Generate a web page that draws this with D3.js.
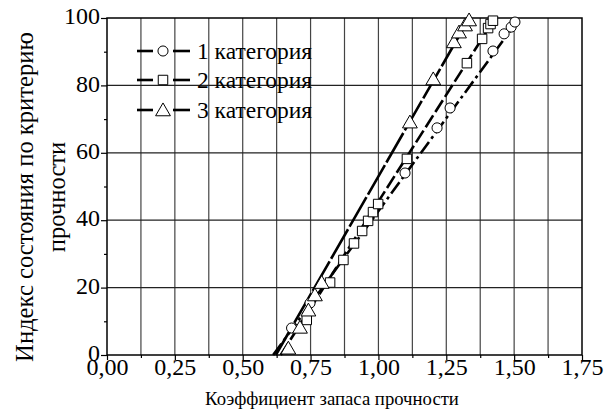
<!DOCTYPE html>
<html><head><meta charset="utf-8">
<script src="https://cdn.jsdelivr.net/npm/d3@7"></script>
</head><body style="margin:0">
<svg id="c" width="616" height="412" style="font-family:'Liberation Serif'"></svg>
<script>
// ---- data ----
const seriesNames = ["1 категория", "2 категория", "3 категория"];
const xTicks = [0, 0.25, 0.5, 0.75, 1.0, 1.25, 1.5, 1.75];
const yTicks = [0, 20, 40, 60, 80, 100];
const cat1 = [[0.680,8.0],[0.748,15.4],[1.098,54.0],[1.216,67.4],[1.264,73.3],[1.422,90.2],[1.463,95.3],[1.489,97.3],[1.503,98.8]];
const cat2 = [[0.736,10.4],[0.822,21.5],[0.871,28.2],[0.910,33.1],[0.940,36.8],[0.962,39.8],[0.980,42.4],[0.999,44.8],[1.105,58.2],[1.326,86.6],[1.382,93.8],[1.404,97.0],[1.413,98.2],[1.422,99.2]];
const cat3 = [[0.668,2.0],[0.711,8.2],[0.742,13.3],[0.766,17.8],[0.791,21.5],[1.116,69.1],[1.202,81.9],[1.278,92.9],[1.297,95.8],[1.319,97.9],[1.334,99.4]];
const fit1 = [[0.612,0],[1.52,100]];
const fit2 = [[0.640,0],[1.43,100]];
const fit3 = [[0.622,0],[1.335,100]];

const svg = d3.select("#c");
const L = 107, R = 582, T = 18, B = 355;
const x = d3.scaleLinear().domain([0,1.75]).range([L,R]);
const y = d3.scaleLinear().domain([0,100]).range([B,T]);
const FONT = '"Liberation Serif"';

// grid
const vgrid = d3.range(1,14).map(i=>i*0.125);
svg.append("g").selectAll("line").data(vgrid).join("line")
  .attr("x1",d=>x(d)).attr("x2",d=>x(d)).attr("y1",T).attr("y2",B)
  .attr("stroke","#444").attr("stroke-width",1.2);
svg.append("g").selectAll("line").data([20,40,60,80]).join("line")
  .attr("x1",L).attr("x2",R).attr("y1",d=>y(d)).attr("y2",d=>y(d))
  .attr("stroke","#222").attr("stroke-width",1.2);

// frame
svg.append("rect").attr("x",L).attr("y",T).attr("width",R-L).attr("height",B-T)
  .attr("fill","none").attr("stroke","#000").attr("stroke-width",1.5);

// axes
const xAxis = d3.axisBottom(x).tickValues(xTicks).tickSize(5)
  .tickFormat(d=>d3.format(".2f")(d).replace(".",","));
const gx = svg.append("g").attr("transform",`translate(0,${B})`).call(xAxis);
const minorX = d3.range(0,7).map(i=>0.125+i*0.25);
const gxm = svg.append("g").attr("transform",`translate(0,${B})`)
  .call(d3.axisBottom(x).tickValues(minorX).tickSize(3).tickFormat(""));
const yAxis = d3.axisLeft(y).tickValues(yTicks).tickSize(6);
const gy = svg.append("g").attr("transform",`translate(${L},0)`).call(yAxis);
const gym = svg.append("g").attr("transform",`translate(${L},0)`)
  .call(d3.axisLeft(y).tickValues([10,30,50,70,90]).tickSize(3).tickFormat(""));
[gx,gxm,gy,gym].forEach(g=>{
  g.select(".domain").remove();
  g.attr("font-family",null).attr("font-size",null);
  g.selectAll("line").attr("stroke","#000").attr("stroke-width",1.2);
  g.selectAll("text").style("font-size","24px").attr("fill","#000");
});
gx.selectAll("text").attr("dy","0.62em").attr("y",5);
gy.selectAll("text").attr("x",-7).attr("dy","0.24em");

// fit lines (endpoints lie on the plot edges, no clipping needed)
const line = d3.line().x(d=>x(d[0])).y(d=>y(d[1]));
const dashes = ["14,4,3,4","14,4","34,3"];
const fits = [fit1,fit2,fit3];
const gl = svg.append("g");
fits.forEach((f,i)=>{
  gl.append("path").attr("d",line(f)).attr("fill","none").attr("stroke","#000")
    .attr("stroke-width",2.6).attr("stroke-dasharray",dashes[i]);
});

// markers
const symbols = [d3.symbolCircle, d3.symbolSquare, d3.symbolTriangle];
const sizes = [80, 90, 95];
const cats = [cat1,cat2,cat3];
cats.forEach((c,i)=>{
  svg.append("g").selectAll("path").data(c).join("path")
    .attr("d",d3.symbol().type(symbols[i]).size(sizes[i]))
    .attr("transform",d=>`translate(${x(d[0])},${y(d[1]) + (i==2?1.5:0)})`)
    .attr("fill","#fff").attr("stroke","#000").attr("stroke-width",1);
});

// legend
const ly = [51, 80, 110];
const legendTexts = [];
seriesNames.forEach((n,i)=>{
  const g = svg.append("g");
  g.append("line").attr("x1",137).attr("x2",153).attr("y1",ly[i]).attr("y2",ly[i]).attr("stroke","#000").attr("stroke-width",2.6);
  g.append("line").attr("x1",173).attr("x2",190).attr("y1",ly[i]).attr("y2",ly[i]).attr("stroke","#000").attr("stroke-width",2.6);
  g.append("path").attr("d",d3.symbol().type(symbols[i]).size(sizes[i]))
    .attr("transform",`translate(163,${ly[i]+(i==2?1.5:0)})`).attr("fill","#fff").attr("stroke","#000").attr("stroke-width",1);
  legendTexts.push(g.append("text").attr("x",197).attr("y",ly[i]).attr("dy","0.33em")
    .style("font-size","26px").text(n));
});

// axis titles
const xt = svg.append("text").attr("x",332).attr("y",405).attr("text-anchor","middle")
  .style("font-size","22px").text("Коэффициент запаса прочности");
const yt = svg.append("text").attr("transform",`translate(33,197) rotate(-90)`)
  .attr("text-anchor","middle").style("font-size","24px");
yt.append("tspan").attr("x",0).attr("dy",0).text("Индекс состояния по критерию");
yt.append("tspan").attr("x",0).attr("dy",32).text("прочности");

// apply serif font to every text at the end
svg.selectAll("text").attr("font-family",FONT).style("font-family",FONT);

function fitText(sel, target, node){
  const w = (node||sel.node()).getComputedTextLength();
  const fs = parseFloat(sel.style("font-size"));
  if (w>0) sel.style("font-size", Math.min(fs*1.15, Math.max(fs*0.85, fs*target/w)).toFixed(2)+"px");
}
legendTexts.forEach(t=>fitText(t,115));
fitText(xt,254);
fitText(yt,330,yt.select("tspan").node());
</script></body></html>
